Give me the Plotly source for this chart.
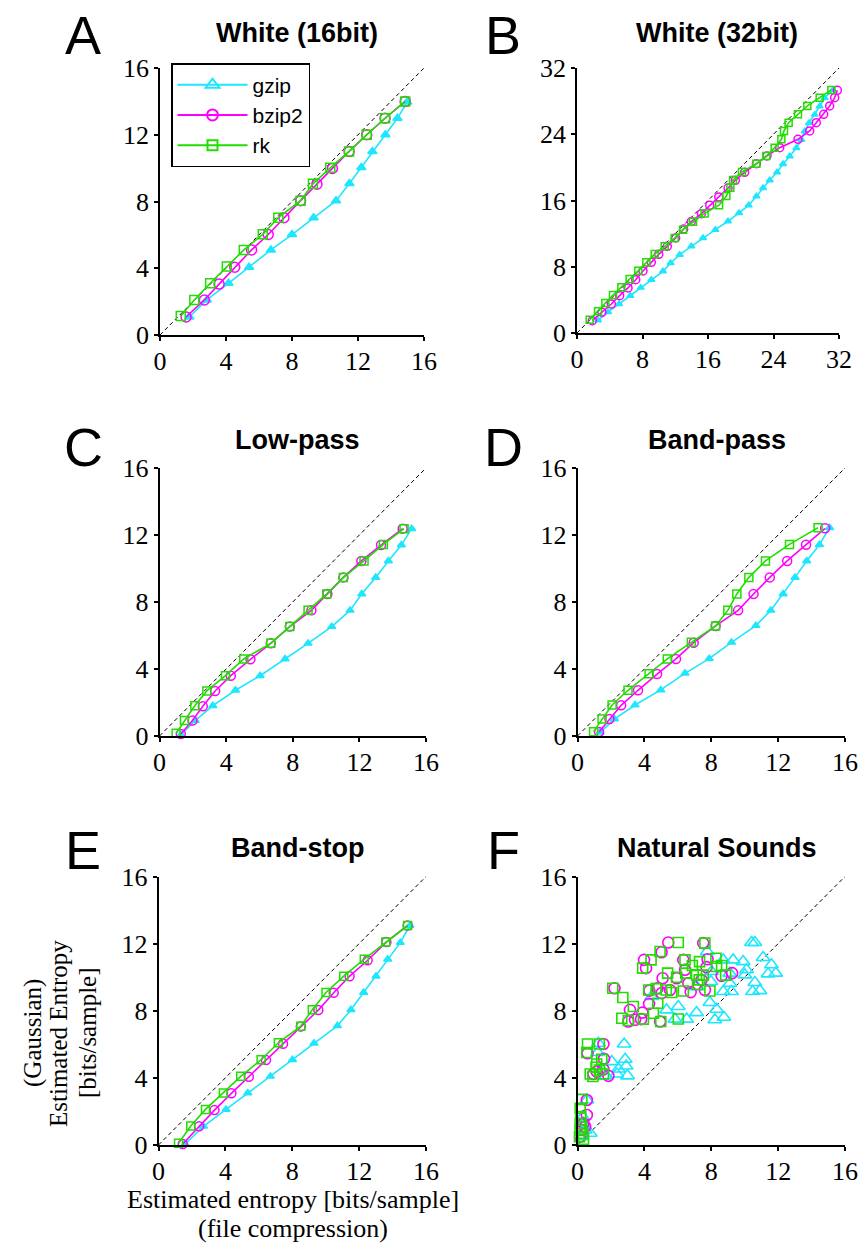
import plotly.graph_objects as go

W, H = 865, 1259

# ---------------- data ----------------
series_names = ["gzip", "bzip2", "rk"]
ticks16 = [0, 4, 8, 12, 16]
ticks32 = [0, 8, 16, 24, 32]
diag16 = [0, 16]
diag32 = [0, 32]

# Panel A: White (16bit)
A_gzip_x = [1.78, 2.83, 4.15, 5.40, 6.72, 8.0, 9.31, 10.67, 11.48, 12.2, 12.87, 13.66, 14.39, 14.98]
A_gzip_y = [1.08, 2.1, 3.1, 4.06, 5.1, 6.02, 7.03, 8.05, 9.08, 10.04, 11.0, 12.0, 12.99, 13.96]
A_bzip2_x = [1.58, 2.69, 3.58, 4.53, 5.55, 6.56, 7.51, 8.52, 9.51, 10.45, 11.46, 12.53, 13.64, 14.86]
A_bzip2_y = [1.08, 2.1, 3.05, 4.06, 5.1, 6.02, 7.03, 8.05, 9.04, 9.98, 11.0, 12.0, 12.99, 14.0]
A_rk_x = [1.26, 2.08, 3.04, 4.05, 5.08, 6.23, 7.17, 8.52, 9.27, 10.32, 11.46, 12.53, 13.64, 14.86]
A_rk_y = [1.14, 2.1, 3.1, 4.1, 5.1, 6.03, 7.03, 8.05, 9.06, 10.02, 11.0, 12.0, 12.99, 14.0]

# Panel B: White (32bit)
B_gzip_x = [2.57, 3.79, 5.13, 6.51, 7.78, 9.08, 10.5, 11.44, 12.54, 13.96, 15.39, 16.9, 18.44, 19.79, 20.97,
            21.91, 22.72, 23.53, 24.43, 25.16, 25.98, 26.79, 27.4, 27.81, 28.34, 29.03, 29.64, 30.25, 31.27]
B_gzip_y = [1.53, 2.54, 3.5, 4.51, 5.48, 6.44, 7.45, 8.45, 9.46, 10.47, 11.47, 12.48, 13.49, 14.49, 15.42,
            16.51, 17.51, 18.44, 19.4, 20.41, 21.34, 22.34, 23.35, 24.36, 25.36, 26.37, 27.38, 28.38, 29.35]
B_bzip2_x = [1.87, 3.05, 4.19, 5.21, 6.23, 7.17, 8.06, 9.08, 9.98, 11.03, 12.05, 13.03, 13.96, 15.19, 16.21,
             17.31, 18.45, 19.34, 20.48, 21.91, 23.21, 24.76, 26.99, 28.42, 29.23, 30.13, 30.86, 31.47, 31.8]
B_bzip2_y = [1.49, 2.5, 3.5, 4.51, 5.44, 6.44, 7.49, 8.53, 9.5, 10.47, 11.47, 12.56, 13.45, 14.41, 15.42,
             16.43, 17.51, 18.44, 19.4, 20.45, 21.38, 22.38, 23.39, 24.4, 25.4, 26.41, 27.42, 28.42, 29.31]
B_rk_x = [1.55, 2.57, 3.46, 4.40, 5.42, 6.43, 7.49, 8.47, 9.49, 10.71, 11.93, 12.95, 14.17, 15.59, 17.35,
          18.24, 18.73, 19.06, 20.15, 21.91, 23.13, 24.14, 24.96, 25.28, 25.85, 26.99, 28.13, 29.64, 31.07]
B_rk_y = [1.61, 2.62, 3.62, 4.59, 5.52, 6.52, 7.53, 8.53, 9.54, 10.47, 11.47, 12.48, 13.43, 14.44, 15.44,
          16.53, 17.55, 18.47, 19.44, 20.45, 21.38, 22.38, 23.39, 24.4, 25.4, 26.41, 27.42, 28.42, 29.35]

# Panel C: Low-pass
C_gzip_x = [1.28, 2.14, 3.2, 4.56, 6.04, 7.54, 8.92, 10.34, 11.44, 12.14, 12.98, 13.74, 14.52, 15.14]
C_gzip_y = [0.06, 0.92, 1.81, 2.73, 3.6, 4.6, 5.53, 6.53, 7.5, 8.48, 9.47, 10.45, 11.4, 12.38]
C_bzip2_x = [1.28, 1.98, 2.6, 3.34, 4.28, 5.46, 6.68, 7.82, 9.12, 10.08, 11.04, 12.12, 13.3, 14.6]
C_bzip2_y = [0.12, 0.92, 1.77, 2.69, 3.6, 4.58, 5.53, 6.53, 7.5, 8.48, 9.47, 10.45, 11.4, 12.38]
C_rk_x = [1.0, 1.5, 2.12, 2.84, 3.96, 5.06, 6.68, 7.82, 8.92, 10.04, 11.04, 12.28, 13.44, 14.68]
C_rk_y = [0.16, 0.92, 1.81, 2.69, 3.6, 4.6, 5.53, 6.53, 7.5, 8.48, 9.47, 10.45, 11.44, 12.38]

# Panel D: Band-pass
D_gzip_x = [1.35, 2.21, 3.44, 4.98, 6.43, 7.88, 9.21, 10.67, 11.56, 12.3, 13.01, 13.71, 14.47, 15.08]
D_gzip_y = [0.22, 1.01, 1.85, 2.75, 3.74, 4.62, 5.59, 6.59, 7.5, 8.48, 9.47, 10.45, 11.42, 12.44]
D_bzip2_x = [1.29, 1.91, 2.61, 3.62, 4.76, 5.89, 6.95, 8.26, 9.61, 10.53, 11.5, 12.54, 13.67, 14.81]
D_bzip2_y = [0.24, 1.01, 1.83, 2.73, 3.7, 4.6, 5.57, 6.57, 7.5, 8.48, 9.47, 10.45, 11.42, 12.4]
D_rk_x = [0.96, 1.47, 2.07, 3.02, 4.28, 5.37, 6.81, 8.26, 8.99, 9.53, 10.25, 11.24, 12.68, 14.39]
D_rk_y = [0.26, 1.01, 1.85, 2.73, 3.72, 4.6, 5.59, 6.57, 7.5, 8.48, 9.47, 10.45, 11.44, 12.44]

# Panel E: Band-stop
E_gzip_x = [1.59, 2.69, 4.04, 5.34, 6.69, 8.01, 9.3, 10.7, 11.51, 12.27, 13.01, 13.71, 14.46, 15.04]
E_gzip_y = [0.06, 1.11, 2.12, 3.1, 4.09, 5.08, 6.07, 7.1, 8.06, 9.09, 10.06, 11.07, 12.06, 13.08]
E_bzip2_x = [1.45, 2.43, 3.35, 4.36, 5.4, 6.43, 7.45, 8.51, 9.56, 10.48, 11.43, 12.51, 13.63, 14.9]
E_bzip2_y = [0.06, 1.11, 2.08, 3.08, 4.07, 5.06, 6.03, 7.06, 8.04, 9.07, 10.06, 11.01, 12.09, 13.08]
E_rk_x = [1.2, 1.93, 2.81, 3.88, 4.92, 6.14, 7.17, 8.51, 9.2, 10.02, 11.08, 12.31, 13.59, 14.9]
E_rk_y = [0.1, 1.13, 2.12, 3.1, 4.09, 5.08, 6.09, 7.08, 8.06, 9.09, 10.06, 11.07, 12.09, 13.08]

# Panel F: Natural Sounds (scatter)
F_gzip_x = [10.41, 10.61, 7.76, 8.72, 9.31, 9.91, 11.10, 11.60, 8.02, 9.11, 10.11, 10.01, 11.40, 11.86, 7.98,
            9.11, 10.61, 10.47, 10.91, 8.72, 9.21, 7.12, 4.44, 5.33, 6.03, 7.92, 7.12, 8.32, 8.22, 8.76, 6.53,
            5.83, 2.79, 1.25, 1.21, 2.05, 2.85, 2.45, 2.91, 2.35, 2.99, 1.71, 1.45, 0.56, 0.46, 0.76, 0.36,
            0.32, 0.26]
F_gzip_y = [12.07, 12.07, 11.53, 11.03, 11.03, 10.93, 11.17, 10.74, 10.34, 10.24, 10.44, 10.14, 10.20, 10.24, 9.74,
            9.64, 9.68, 9.15, 9.20, 9.15, 9.15, 9.44, 8.85, 8.05, 8.25, 8.49, 7.89, 8.09, 7.46, 7.61, 7.50,
            7.50, 6.02, 6.06, 5.51, 4.97, 5.11, 4.53, 4.71, 4.23, 4.12, 4.12, 4.51, 2.68, 0.89, 0.70, 1.29,
            1.69, 0.50]
F_bzip2_x = [5.43, 5.03, 3.98, 4.10, 2.21, 5.09, 4.30, 4.28, 3.14, 3.88, 3.04, 3.44, 3.80, 4.94, 5.03,
             5.53, 6.33, 6.43, 6.63, 6.77, 7.62, 7.78, 7.72, 9.25, 8.62, 7.52, 4.78, 5.93, 7.42, 1.55,
             0.60, 1.59, 1.15, 1.85, 1.55, 0.96, 0.56, 0.56, 0.36, 0.26, 0.16, 0.46]
F_bzip2_y = [12.07, 11.49, 11.03, 10.54, 9.34, 9.94, 9.20, 8.41, 8.05, 7.89, 7.36, 7.46, 7.50, 7.36, 9.05,
             9.24, 11.03, 10.44, 9.64, 9.11, 9.24, 11.07, 10.60, 10.24, 10.08, 12.03, 9.34, 9.94, 9.84, 6.02,
             5.47, 5.13, 4.37, 4.12, 4.51, 4.23, 2.68, 1.79, 1.29, 0.89, 0.50, 1.09]
F_rk_x = [6.03, 7.62, 4.94, 4.40, 3.90, 2.11, 2.71, 3.34, 4.80, 2.65, 3.04, 3.94, 4.98, 4.26, 4.70,
          5.39, 5.31, 5.63, 6.33, 5.93, 6.43, 6.87, 7.30, 6.47, 7.12, 7.52, 7.28, 7.18, 7.92, 8.28,
          8.62, 8.32, 8.86, 6.03, 4.54, 0.60, 1.31, 0.56, 1.45, 1.15, 0.76, 0.92, 1.31, 1.55, 1.11,
          0.26, 0.16, 0.20, 0.16, 0.26, 0.16, 0.32, 0.12, 0.36]
F_rk_y = [12.07, 12.03, 11.53, 11.03, 10.54, 9.34, 8.79, 8.25, 8.45, 7.55, 7.42, 7.50, 7.36, 9.24, 9.32,
          10.24, 9.24, 9.09, 9.18, 10.00, 11.03, 10.70, 10.93, 10.24, 10.14, 10.12, 9.84, 9.56, 9.18, 11.13,
          10.70, 10.64, 10.12, 7.51, 7.85, 6.02, 6.02, 5.51, 5.11, 4.83, 4.23, 4.08, 4.47, 4.23, 4.63,
          2.72, 2.19, 1.69, 1.29, 1.09, 0.89, 0.70, 0.50, 0.34]

panel_titles = ["White (16bit)", "White (32bit)", "Low-pass", "Band-pass", "Band-stop", "Natural Sounds"]
panel_letters = ["A", "B", "C", "D", "E", "F"]
xlabel_lines = ["Estimated entropy [bits/sample]", "(file compression)"]
ylabel_lines = ["(Gaussian)", "Estimated Entropy", "[bits/sample]"]

# ---------------- styling / layout ----------------
CYAN = "#1EE6FF"
MAG = "#FF00FF"
GREEN = "#22DD00"
colors = [CYAN, MAG, GREEN]
SERIF = "Liberation Serif"
SANS = "Liberation Sans"

def px_x(p):
    return p / W

def px_y(p):
    return 1 - p / H

# pixel boxes: (left, right, top, bottom)
boxes = [
    (160, 424, 68, 335),
    (577, 839, 68, 333),
    (159.5, 426, 468, 736),
    (577.5, 845, 468, 736),
    (158.5, 426, 876.5, 1145),
    (577.5, 845, 876.5, 1145),
]
title_pos = [(297, 33), (717, 33), (297, 440), (717, 440), (297, 848), (717, 848)]
letter_pos = [(83, 35), (503, 35), (83, 447), (503, 447), (83, 850), (503, 850)]
marker_sizes = [[8, 10, 9], [6, 8, 7], [7, 9, 8], [7, 9, 8], [7, 9, 8], [12, 11, 10]]

panels = [
    ([A_gzip_x, A_bzip2_x, A_rk_x], [A_gzip_y, A_bzip2_y, A_rk_y], 16),
    ([B_gzip_x, B_bzip2_x, B_rk_x], [B_gzip_y, B_bzip2_y, B_rk_y], 32),
    ([C_gzip_x, C_bzip2_x, C_rk_x], [C_gzip_y, C_bzip2_y, C_rk_y], 16),
    ([D_gzip_x, D_bzip2_x, D_rk_x], [D_gzip_y, D_bzip2_y, D_rk_y], 16),
    ([E_gzip_x, E_bzip2_x, E_rk_x], [E_gzip_y, E_bzip2_y, E_rk_y], 16),
    ([F_gzip_x, F_bzip2_x, F_rk_x], [F_gzip_y, F_bzip2_y, F_rk_y], 16),
]

fig = go.Figure()
layout = dict(
    template="none",
    width=W, height=H,
    margin=dict(l=0, r=0, t=0, b=0, pad=0, autoexpand=False),
    paper_bgcolor="white", plot_bgcolor="white",
    font=dict(family=SERIF, size=26, color="black"),
    showlegend=True,
    legend=dict(
        x=px_x(171), y=px_y(63), xanchor="left", yanchor="top",
        bgcolor="white", bordercolor="black", borderwidth=1.5,
        font=dict(family=SANS, size=21, color="black"),
        itemwidth=70, tracegroupgap=0, entrywidth=84, entrywidthmode="pixels",
    ),
)
annotations = []

# legend entries (same styles as the series, open markers as in the key)
legend_syms = ["triangle-up-open", "circle-open", "square-open"]
legend_sizes = [12, 11, 10]
for k in range(3):
    fig.add_trace(go.Scatter(
        x=[None], y=[None], mode="lines+markers", name=series_names[k],
        line=dict(color=colors[k], width=2),
        marker=dict(symbol=legend_syms[k], size=legend_sizes[k], color=colors[k],
                    line=dict(color=colors[k], width=2)),
        showlegend=True,
    ))

for i, (xs, ys, rmax) in enumerate(panels):
    n = i + 1
    xa = "x" if n == 1 else f"x{n}"
    ya = "y" if n == 1 else f"y{n}"
    l, r, t, b = boxes[i]
    ticks = ticks32 if rmax == 32 else ticks16
    diag = diag32 if rmax == 32 else diag16
    ax_common = dict(
        range=[0, rmax], tickvals=ticks, ticktext=[str(v) for v in ticks],
        showgrid=False, zeroline=False, showline=True, linecolor="black", linewidth=1.5,
        ticks="outside", ticklen=4, tickwidth=1.5, tickcolor="black", automargin=False,
        tickfont=dict(family=SERIF, size=26, color="black"), fixedrange=True,
    )
    layout["xaxis" if n == 1 else f"xaxis{n}"] = dict(ax_common, domain=[px_x(l), px_x(r)], anchor=ya,
                                                      ticklabelstandoff=-2)
    layout["yaxis" if n == 1 else f"yaxis{n}"] = dict(ax_common, domain=[px_y(b), px_y(t)], anchor=xa)

    # dashed identity line
    fig.add_trace(go.Scatter(x=diag, y=diag, mode="lines", xaxis=xa, yaxis=ya,
                             line=dict(color="black", width=1, dash="4px,3px"),
                             showlegend=False, hoverinfo="skip"))
    msz = marker_sizes[i]
    if i < 5:
        syms = ["triangle-up", "circle-open", "square-open"]
        for k in range(3):
            fig.add_trace(go.Scatter(
                x=xs[k], y=ys[k], mode="lines+markers", name=series_names[k],
                xaxis=xa, yaxis=ya, cliponaxis=False,
                line=dict(color=colors[k], width=1.6),
                marker=dict(symbol=syms[k], size=msz[k], color=colors[k],
                            line=dict(color=colors[k], width=1.5)),
                showlegend=False,
            ))
    else:
        syms = ["triangle-up-open", "circle-open", "square-open"]
        for k in range(3):
            fig.add_trace(go.Scatter(
                x=xs[k], y=ys[k], mode="markers", name=series_names[k],
                xaxis=xa, yaxis=ya, cliponaxis=False,
                marker=dict(symbol=syms[k], size=msz[k], color=colors[k],
                            line=dict(color=colors[k], width=1.6)),
                showlegend=False,
            ))

    tx, ty = title_pos[i]
    annotations.append(dict(text=f"<b>{panel_titles[i]}</b>", x=px_x(tx), y=px_y(ty),
                            xref="paper", yref="paper", showarrow=False,
                            xanchor="center", yanchor="middle",
                            font=dict(family=SANS, size=27, color="black")))
    lx, ly = letter_pos[i]
    annotations.append(dict(text=panel_letters[i], x=px_x(lx), y=px_y(ly),
                            xref="paper", yref="paper", showarrow=False,
                            xanchor="center", yanchor="middle",
                            font=dict(family=SANS, size=54, color="black")))

# axis titles
for j, (line, yy) in enumerate(zip(xlabel_lines, [1199, 1228])):
    annotations.append(dict(text=line, x=px_x(293), y=px_y(yy), xref="paper", yref="paper",
                            showarrow=False, xanchor="center", yanchor="middle",
                            font=dict(family=SERIF, size=26, color="black")))
for j, (line, xx) in enumerate(zip(ylabel_lines, [33, 58, 87])):
    annotations.append(dict(text=line, x=px_x(xx), y=px_y(1033), xref="paper", yref="paper",
                            showarrow=False, xanchor="center", yanchor="middle", textangle=-90,
                            font=dict(family=SERIF, size=25, color="black")))

layout["annotations"] = annotations
fig.update_layout(**layout)
fig.write_html("out.html", config={"displayModeBar": False},
               post_script="document.body.style.margin='0';document.body.style.padding='0';")
